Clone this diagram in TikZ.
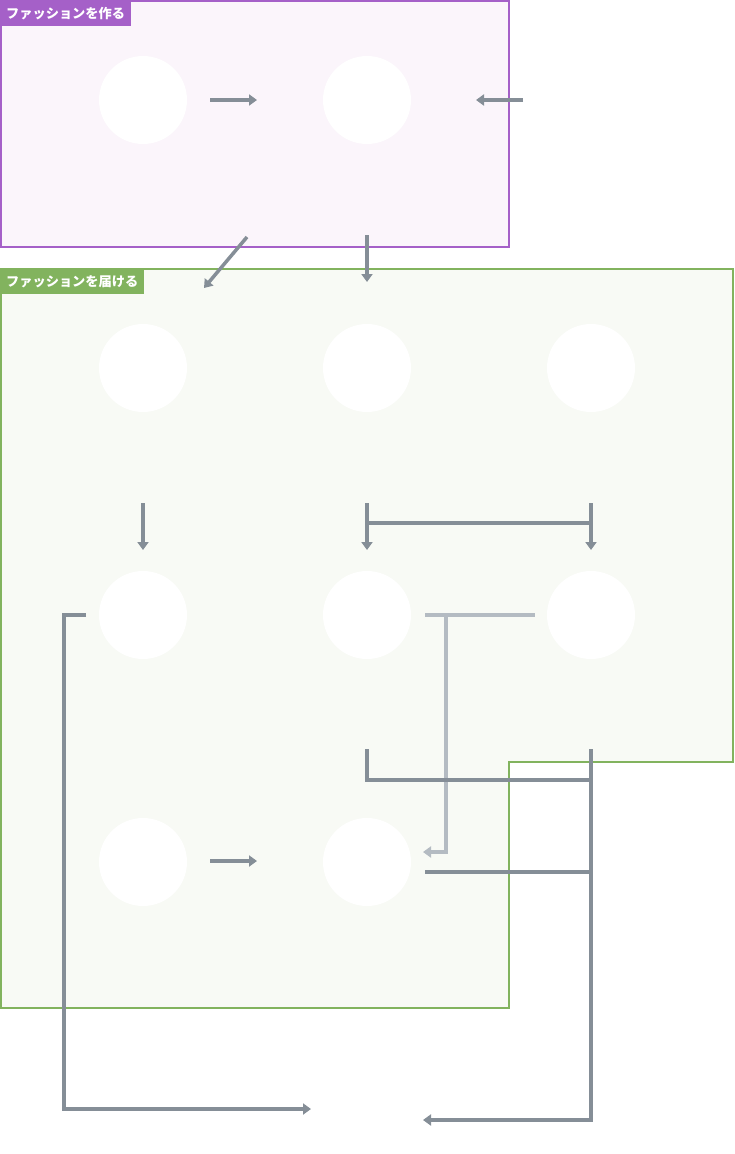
\documentclass[tikz,border=0pt]{standalone}
\usepackage{fontspec}
\newfontfamily\cjk{Noto Sans CJK JP}
\usetikzlibrary{arrows.meta}
\definecolor{purp}{HTML}{A560C8}
\definecolor{purpfill}{HTML}{FBF5FB}
\definecolor{grn}{HTML}{82B35E}
\definecolor{grnfill}{HTML}{F8FAF5}
\definecolor{arr}{HTML}{858E97}
\definecolor{larr}{HTML}{B4BBC2}
\tikzset{
  circ/.style={circle, fill=white, draw=none, minimum size=88pt, inner sep=0pt},
  conn/.style={draw=arr, line width=3.5pt},
  lconn/.style={draw=larr, line width=3.5pt},
  tip/.style={-{Triangle[length=8pt,width=11pt]}},
  grplabel/.style={anchor=north west, text=white, font=\cjk\bfseries\fontsize{13.2}{15}\selectfont, inner xsep=6pt, inner ysep=0pt, minimum height=26pt},
}
\begin{document}
\begin{tikzpicture}[x=1pt,y=-1pt]
\useasboundingbox (0,0) rectangle (734,1154);
% groups
\draw[draw=purp, fill=purpfill, line width=1.5pt] (1,1) rectangle (509,247);
\node[grplabel, fill=purp] (lab1) at (0,0) {ファッションを作る};
\draw[draw=grn, fill=grnfill, line width=1.5pt] (1,269) -- (733,269) -- (733,762) -- (509,762) -- (509,1008) -- (1,1008) -- cycle;
\node[grplabel, fill=grn, minimum height=25pt] (lab2) at (0,269) {ファッションを届ける};
% circles
\node[circ] (c11) at (143,100) {};
\node[circ] (c12) at (367,100) {};
\node[circ] (c21) at (143,368) {};
\node[circ] (c22) at (367,368) {};
\node[circ] (c23) at (591,368) {};
\node[circ] (c31) at (143,615) {};
\node[circ] (c32) at (367,615) {};
\node[circ] (c33) at (591,615) {};
\node[circ] (c41) at (143,862) {};
\node[circ] (c42) at (367,862) {};
% coordinates
\coordinate (a1s) at (210,100); \coordinate (a1e) at (257,100);
\coordinate (a2s) at (523,100); \coordinate (a2e) at (476,100);
\coordinate (a3s) at (247,237); \coordinate (a3e) at (204,288);
\coordinate (a4s) at (367,235); \coordinate (a4e) at (367,282);
\coordinate (a5s) at (143,503); \coordinate (a5e) at (143,550);
\coordinate (a6s) at (367,503); \coordinate (a6e) at (367,550);
\coordinate (a7s) at (591,503); \coordinate (a7e) at (591,550);
\coordinate (b1s) at (86,615); \coordinate (b1e) at (311,1109);
\coordinate (l1s) at (425,615); \coordinate (l1e) at (535,615);
\coordinate (l2s) at (446,615); \coordinate (l2e) at (423,852);
\coordinate (m1s) at (367,749); \coordinate (m1e) at (591,780);
\coordinate (m2s) at (591,749); \coordinate (m2e) at (423,1120);
\coordinate (m3s) at (425,872); \coordinate (m3e) at (591,872);
\coordinate (a8s) at (210,861); \coordinate (a8e) at (257,861);
% connectors
\draw[conn, tip] (a1s) -- (a1e);
\draw[conn, tip] (a2s) -- (a2e);
\draw[conn, tip] (a3s) -- (a3e);
\draw[conn, tip] (a4s) -- (a4e);
\draw[conn, tip] (a5s) -- (a5e);
\draw[conn, tip] (a6s) -- (a6e);
\draw[conn, tip] (a7s) -- (a7e);
\draw[conn] (a6s |- 0,523) -- (a7s |- 0,523);
\draw[conn, tip] (b1s) -| (64,1109) -- (b1e);
\draw[lconn] (l1s) -- (l1e);
\draw[lconn, tip] (l2s) |- (l2e);
\draw[conn] (m1s) |- (m1e);
\draw[conn, tip] (m2s) |- (m2e);
\draw[conn] (m3s) -- (m3e);
\draw[conn, tip] (a8s) -- (a8e);
\end{tikzpicture}
\end{document}
